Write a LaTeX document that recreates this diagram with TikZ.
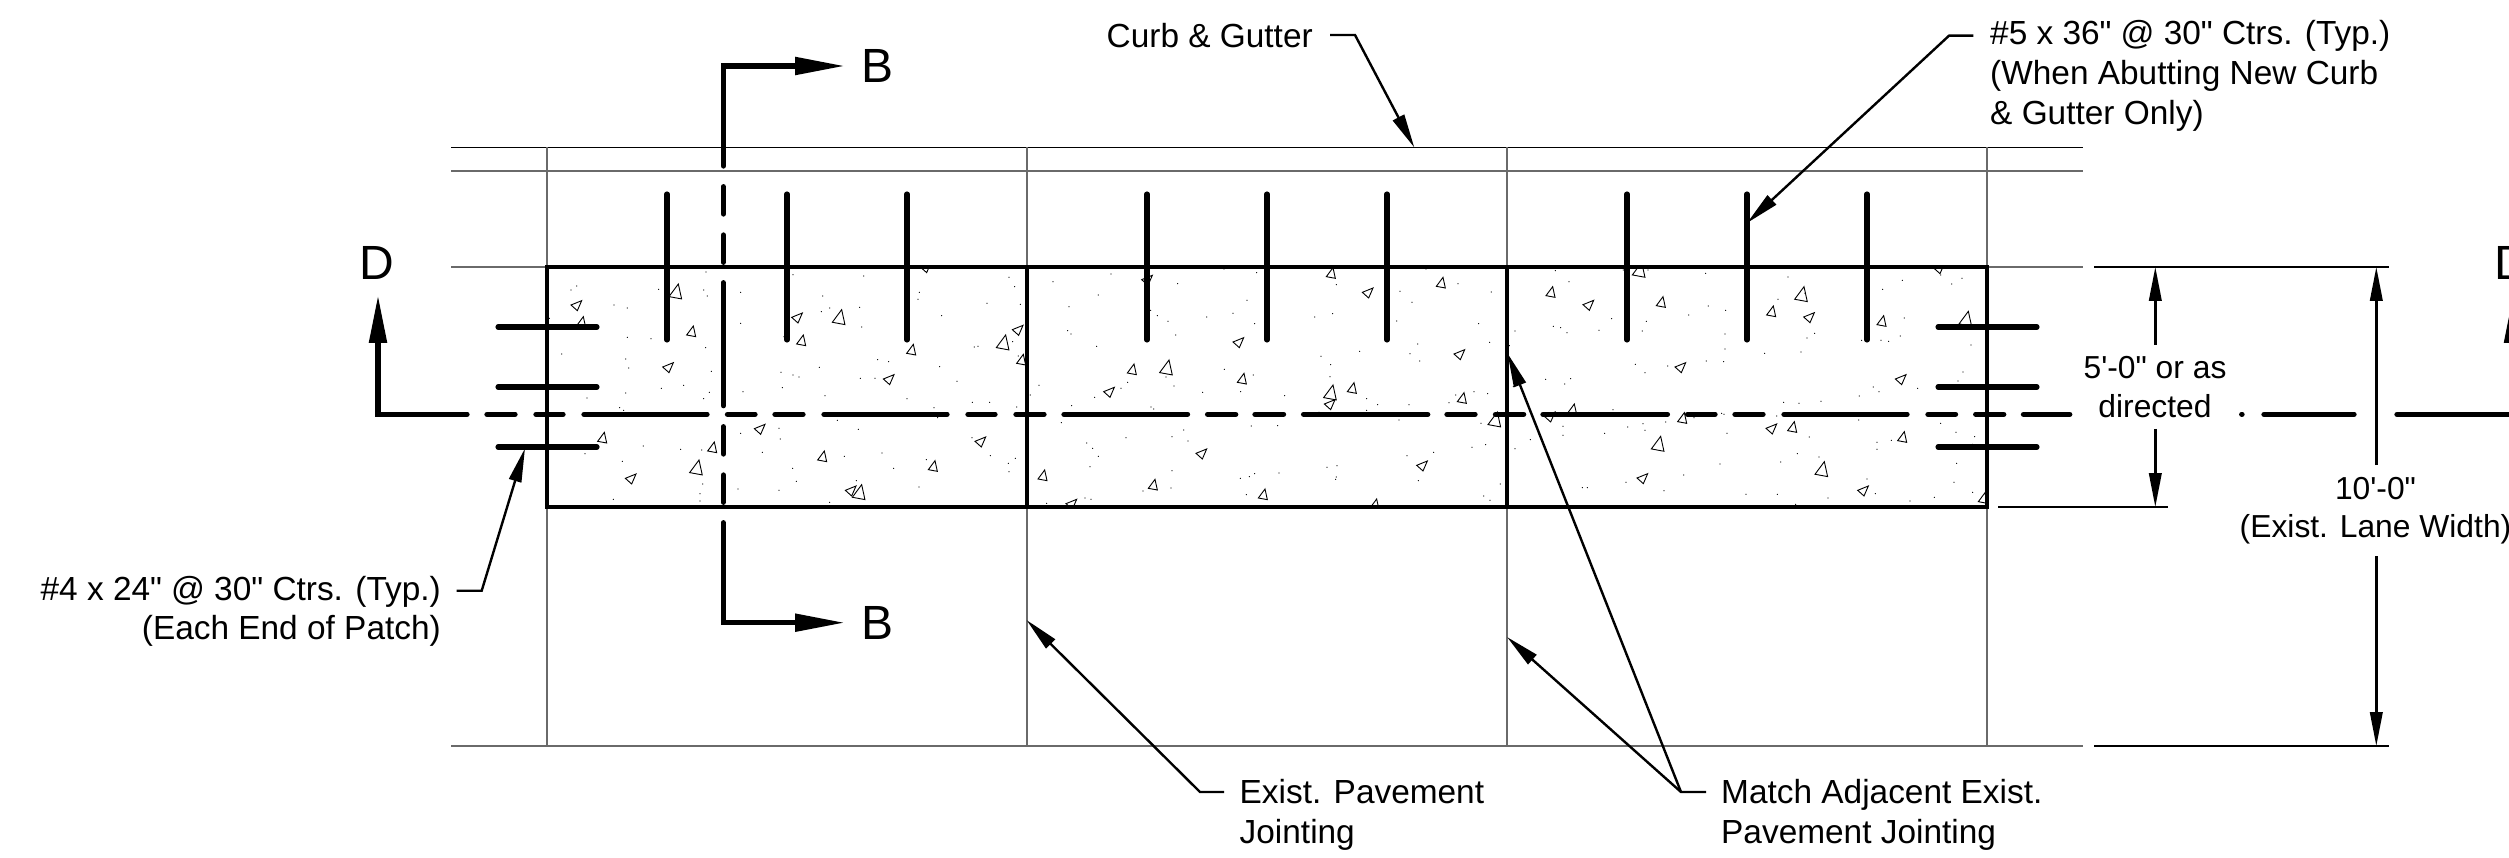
\documentclass[tikz,border=0pt]{standalone}
\usepackage{fontspec}
\usetikzlibrary{arrows.meta}
\newfontfamily\lbl{Liberation Sans}
\newcommand{\aggu}[3]{\draw[agg,shift={(#1,#2)},scale=#3] (5,-20)--(-15,7)--(12,12)--cycle;}
\newcommand{\aggl}[3]{\draw[agg,shift={(#1,#2)},scale=#3] (15,-14)--(-17,-1)--(2,16)--cycle;}
\definecolor{gridgrey}{HTML}{6A6A6A}
\tikzset{
  agg/.style={draw=black,line width=0.9pt,line join=miter},
  dotc/.style={fill=black},
  gridline/.style={draw=gridgrey,line width=1.2pt},
  thinline/.style={draw=black,line width=1.4pt},
  slabline/.style={draw=black,line width=4.9pt},
  barline/.style={draw=black,line width=5.1pt,line cap=round},
  secline/.style={draw=black,line width=5.3pt,line cap=round},
  secarrow/.style={-{Triangle[length=50pt,width=17pt]}},
  secback/.style={{Triangle[length=48pt,width=17pt]}-},
  leader/.style={draw=black,line width=2.4pt,-{Triangle[length=34pt,width=12.5pt]}},
  lab/.style={inner sep=0pt,font=\lbl\fontsize{33.4}{40}\selectfont},
  dimlab/.style={inner sep=0pt,font=\lbl\fontsize{31.8}{40}\selectfont},
  biglab/.style={inner sep=0pt,anchor=base west,font=\lbl\fontsize{48}{50}\selectfont},
}
\begin{document}
\begin{tikzpicture}[x=1pt,y=-1pt]
\useasboundingbox (0,0) rectangle (2509,858);
\clip (0,0) rectangle (2509,858);
% aggregate
\begin{scope}
\clip (547,267) rectangle (1987,507);
\begin{scope}[shift={(540,260)},x=0.33333pt,y=-0.33333pt]
\aggl{1158}{22}{1}\aggl{110}{136}{1}\aggu{125}{190}{1}\aggu{408}{100}{1.4}\aggu{455}{218}{1}\aggl{385}{322}{1}
\aggu{188}{537}{1}\aggl{273}{656}{1}\aggu{518}{566}{1}\aggu{470}{628}{1.4}\aggl{660}{507}{1}\aggl{772}{173}{1}
\aggu{898}{177}{1.4}\aggu{785}{245}{1}\aggu{1115}{273}{1}\aggl{1047}{358}{1}\aggu{848}{593}{1}\aggl{1322}{545}{1}
\aggu{1180}{622}{1}\aggl{933}{692}{1}\aggu{958}{702}{1.4}\aggl{1434}{210}{1}\aggu{1390}{253}{1.4}\aggu{1445}{303}{1}
\foreach \x/\y in {498/36,110/78,93/90,356/88,491/90,502/108,222/135,262/144,602/97,759/44,971/48,848/108,1138/97,1134/118,1094/118,1407/52,1424/80,1441/133,1341/130,959/142,869/144,844/155,1205/167,602/190,965/201,28/175,262/232,333/236,732/230,497/263,65/282,257/297,266/324,1013/299,1046/305,1199/320,1303/261,1314/259,1418/245,1435/288,514/334,838/322,723/337,759/345,777/351,961/355,1005/355,364/385,431/376,727/383,1251/364,257/399,508/397,609/395,141/414,491/416,855/407,1101/416,239/443,251/451,1182/443,1297/427,1349/427,1430/441,1193/473,892/481,717/505,955/508,602/520,721/537,1296/533,176/559,310/558,422/568,485/570,667/577,913/589,1026/579,135/581,1351/587,1426/595,1405/610,1407/635,1159/599,247/604,758/625,1061/625,488/672,769/664,949/662,1137/681,594/687,717/691,480/701,220/718,480/723,869/727}
  {\fill[dotc] (\x,\y) circle[radius=1.9];}
\end{scope}
\begin{scope}[shift={(1020,260)},x=0.33333pt,y=-0.33333pt]
\aggl{382}{60}{1}\aggu{337}{332}{1}\aggu{440}{328}{1.4}\aggl{268}{396}{1}\aggl{656}{247}{1}\aggu{667}{360}{1}
\aggu{69}{650}{1}\aggl{155}{732}{1}\aggu{400}{678}{1}\aggl{545}{581}{1}\aggu{730}{707}{1}\aggu{934}{43}{1}
\aggl{1044}{98}{1}\aggu{1264}{72}{1}\aggu{932}{403}{1.4}\aggl{930}{433}{1}\aggu{997}{388}{1}\aggu{1065}{737}{1}
\aggl{1207}{617}{1}\aggl{1319}{283}{1}\aggu{1327}{418}{1}\aggu{1425}{484}{1.4}
\foreach \x/\y in {273/42,99/65,710/38,473/71,949/74,612/27,1218/27,1314/71,1414/96,235/105,681/121,1140/94,1176/127,147/140,392/151,639/160,735/148,412/167,560/171,884/171,938/161,444/184,1130/183,704/191,1376/191,143/212,153/222,467/225,230/259,1193/252,1409/247,1019/274,1170/281,903/289,1199/303,932/314,613/328,700/345,930/350,438/351,57/376,323/367,303/385,462/378,1362/395,1403/401,548/397,662/395,31/405,224/412,794/407,1040/416,1307/405,155/437,393/441,401/447,1073/434,1167/434,1287/428,1040/451,897/457,1137/480,124/488,1383/490,694/498,773/497,491/510,456/530,504/543,318/533,200/549,218/565,235/589,1397/554,1356/562,1241/577,1161/587,210/620,456/632,921/622,951/617,704/641,777/639,688/650,661/655,949/651,947/658,1195/662,453/684,369/693,1441/672,679/704,1391/708,1410/721,195/714,213/718,80/730}
  {\fill[dotc] (\x,\y) circle[radius=1.9];}
\end{scope}
\begin{scope}[shift={(1500,260)},x=0.33333pt,y=-0.33333pt]
\aggu{418}{35}{1.4}\aggu{153}{100}{1}\aggl{266}{135}{1}\aggu{484}{130}{1}\aggu{815}{158}{1}\aggu{905}{108}{1.4}
\aggl{928}{172}{1}\aggu{1146}{187}{1}\aggl{1318}{25}{1}\aggu{1398}{182}{1.4}\aggl{542}{322}{1}\aggl{1203}{358}{1}
\aggu{218}{452}{1}\aggl{150}{470}{1}\aggu{548}{478}{1}\aggu{475}{557}{1.4}\aggl{815}{506}{1}\aggu{878}{505}{1}
\aggu{1208}{535}{1}\aggu{966}{633}{1.4}\aggl{428}{655}{1}\aggl{1090}{692}{1}\aggu{1450}{718}{1}
\foreach \x/\y in {166/32,444/30,370/30,617/40,864/51,207/65,1108/60,1207/61,1148/88,1355/72,1386/55,1322/45,834/118,625/138,677/151,566/165,335/176,1213/174,439/184,160/199,182/203,45/213,201/218,297/211,427/213,675/222,944/220,921/234,1085/241,1143/241,1166/244,1201/228,28/257,675/267,794/280,903/276,1413/255,406/313,503/318,619/303,671/305,435/338,1389/336,1374/363,137/358,212/356,194/372,40/380,1120/381,1137/395,1253/385,1078/408,963/424,851/427,897/430,339/449,665/460,672/463,582/473,830/468,497/486,429/491,1076/480,1322/490,189/499,383/501,435/511,314/520,189/526,681/520,1368/517,1424/530,928/531,1418/553,91/539,45/566,1131/547,1174/541,1131/568,892/581,957/591,842/606,660/612,1370/610,551/645,378/667,1101/657,1362/667,247/683,262/683,492/692,738/703,832/703,1126/701,1418/697,984/714,1303/712,1230/723,887/733,915/100}
  {\fill[dotc] (\x,\y) circle[radius=1.9];}
\end{scope}
\end{scope}
% named points
\coordinate (tl) at (547,267);
\coordinate (br) at (1987,507);
% grid
\draw[thinline] (451,147.5) -- (2083,147.5);
\draw[gridline] (451,171) -- (2083,171);
\draw[gridline] (451,267) -- (547,267);
\draw[gridline] (1987,267) -- (2083,267);
\draw[gridline] (451,746) -- (2083,746);
\foreach \j in {547,1027,1507,1987} {\draw[gridline] (\j,147.5) -- (\j,746);}
% slab
\draw[slabline] (tl) rectangle (br);
\foreach \j in {1027,1507} {\draw[slabline] (\j,267) -- (\j,507);}
% bars
\foreach \b in {667,787,907,1147,1267,1387,1627,1747,1867} {\draw[barline] (\b,194) -- (\b,340);}
\foreach \r in {327,387,447} {
  \draw[barline] (498,\r) -- (597,\r);
  \draw[barline] (1938,\r) -- (2037,\r);
}
% section B
\coordinate (bu) at (723.3,66);
\coordinate (bd) at (723.3,622.7);
\draw[secline,secarrow] (723.3,166) -- (bu) -- (845,66);
\foreach \a/\z in {186.7/214,235/262.3,282.7/405.7,426.7/454,475/502.3} {\draw[secline] (723.3,\a) -- (723.3,\z);}
\draw[secline,secarrow] (723.3,522.7) -- (bd) -- (845,622.7);
% section D
\coordinate (dl) at (378,414.3);
\coordinate (dr) at (2513,414.3);
\draw[secline,secback] (378,295) -- (dl) -- (467,414.3);
\foreach \a/\z in {487/515,536/563,584/707,727.5/755,775/803,824/947,968/995,1016/1044,1064/1187.5,1207.6/1235.7,1255/1283.5,1303.6/1427.7,1447/1475,1495.5/1523.6,1543/1667.4,1687.5/1715,1735/1763,1784/1907,1928/1955.5,1975.7/2003.7,2023.5/2069.7,2241.7/2242,2264/2354} {\draw[secline] (\a,414.3) -- (\z,414.3);}
\draw[secline,secback] (2513,295) -- (dr) -- (2397,414.3);
% dimensions
\draw[thinline] (2094,267) -- (2389,267);
\draw[thinline] (1998,507) -- (2168,507);
\draw[thinline] (2094,746) -- (2389,746);
\coordinate (d1t) at (2155.3,267); \coordinate (d1b) at (2155.3,507);
\coordinate (d2t) at (2376.3,267); \coordinate (d2b) at (2376.3,746);
\draw[leader] (2155.3,345) -- (d1t);
\draw[leader] (2155.3,429) -- (d1b);
\draw[leader] (2376.3,465) -- (d2t);
\draw[leader] (2376.3,556) -- (d2b);
% leaders
\coordinate (c1) at (1330,35); \coordinate (c2) at (1355,35); \coordinate (c3) at (1414.3,147.5);
\draw[leader] (c1) -- (c2) -- (c3);
\coordinate (f1) at (1973.3,35.7); \coordinate (f2) at (1949,35.7); \coordinate (f3) at (1747,223);
\draw[leader] (f1) -- (f2) -- (f3);
\coordinate (g1) at (456.7,590.7); \coordinate (g2) at (481.7,590.7); \coordinate (g3) at (525,448.3);
\draw[leader] (g1) -- (g2) -- (g3);
\coordinate (e1) at (1224,792); \coordinate (e2) at (1200,792); \coordinate (e3) at (1026.5,620);
\draw[leader] (e1) -- (e2) -- (e3);
\coordinate (m1) at (1706,792); \coordinate (m2) at (1681,792); \coordinate (m3) at (1507,637); \coordinate (m4) at (1507.5,353.3);
\draw[leader] (m1) -- (m2) -- (m3);
\draw[leader] (m2) -- (m4);
% labels
\node[biglab] (lb1) at (861,82.5) {B};
\node[biglab] (lb2) at (861,639) {B};
\node[biglab] (ld1) at (359,280) {D};
\node[biglab] (ld2) at (2494,280) {D};
\node[lab,anchor=base west] (tcurb) at (1106.5,48) {Curb \& Gutter};
\node[lab,anchor=north west,align=left] (tfive) at (1990,16) {\strut\#5 x 36"\hspace{9pt}@ 30" Ctrs. (Typ.)\\(When Abutting New Curb\\\& Gutter Only)};
\node[lab,anchor=north east,align=right] (tfour) at (441,572) {\strut\#4 x 24"\hspace{9pt}@ 30" Ctrs. (Typ.)\\[-1pt](Each End of Patch)};
\node[lab,anchor=north west,align=left] (texist) at (1239.5,775) {\strut Exist. Pavement\\Jointing};
\node[lab,anchor=north west,align=left] (tmatch) at (1721,775) {\strut Match Adjacent Exist.\\Pavement Jointing};
\node[dimlab,anchor=north,align=center] (tfivef) at (2155,350) {\strut 5'-0" or as\\[-1pt]directed};
\node[dimlab,anchor=north,align=center] (tten) at (2375.5,471) {\strut 10'-0"\\[-2pt](Exist. Lane Width)};
\end{tikzpicture}
\end{document}
